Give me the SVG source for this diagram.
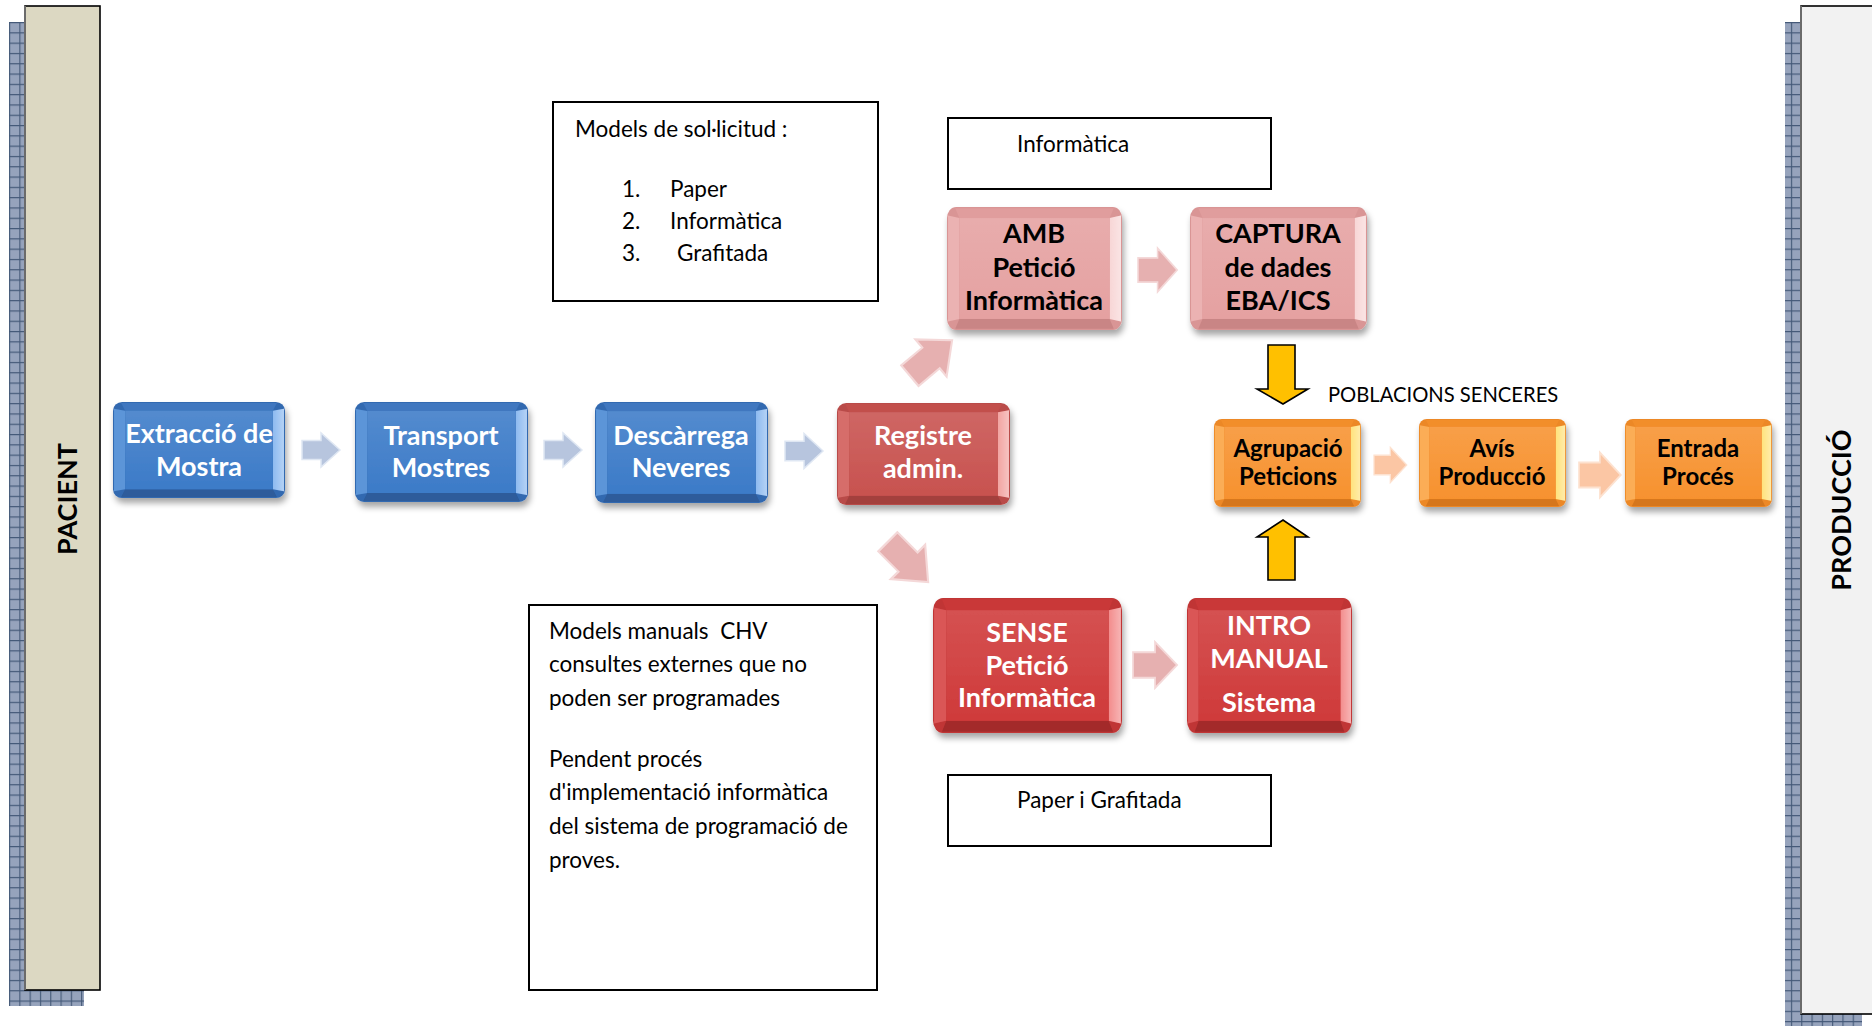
<svg xmlns="http://www.w3.org/2000/svg" xmlns:xlink="http://www.w3.org/1999/xlink" width="1872" height="1026" viewBox="0 0 1872 1026">
  <style>
    .lbl { font-family: Lato, "Open Sans", "Liberation Sans", sans-serif; font-weight: 700; text-anchor: middle; }
    .big { font-size: 27px; }
    .small { font-size: 24px; }
    .light { fill: #ffffff; }
    .dark { fill: #000000; }
    .txt { font-family: Lato, "Open Sans", "Liberation Sans", sans-serif; font-size: 22.5px; fill: #000; }
    .side { font-family: Lato, "Open Sans", "Liberation Sans", sans-serif; font-weight: 700; font-size: 27px; fill: #000; text-anchor: middle; }
    .box { fill: #ffffff; stroke: #000; stroke-width: 2; }
    .blue { --edge: #3369b0; --face: #3c7bc8; --left: #5b95d8; --hi: #8dbaf0; --top: #3f77bf; --bot: #2d5c9b; }
    .rose { --edge: #b94b48; --face: #c8524f; --left: #d66d6a; --hi: #f2a4a1; --top: #c24f4c; --bot: #a3413e; }
    .pink { --edge: #d99595; --face: #e5a1a1; --left: #ebb2b2; --hi: #f8d6d6; --top: #e09d9d; --bot: #c98585; }
    .red { --edge: #c03535; --face: #cf3a3a; --left: #da5656; --hi: #f38c8c; --top: #c93838; --bot: #a32b2b; }
    .orange { --edge: #ec8826; --face: #f7922f; --left: #fbad56; --hi: #ffe27c; --top: #f28e2c; --bot: #d5761b; }
    .a-blue { fill: #b7c5de; stroke: #dfe7f3; stroke-width: 1.5; }
    .a-pink { fill: #e6b0b0; stroke: #f4d8d8; stroke-width: 1.5; }
    .a-peach { fill: #fbc6a4; stroke: #fde2d0; stroke-width: 1.5; }
    .a-yellow { fill: #ffc000; stroke: #000; stroke-width: 1.6; }
  </style>
  <defs>
    <pattern id="grid" width="10.3" height="10.3" patternUnits="userSpaceOnUse" x="9" y="22">
      <rect width="10.3" height="10.3" fill="#96a3bc"/>
      <path d="M0 0.6H10.3M0.6 0V10.3" stroke="#435877" stroke-width="1.1" fill="none"/>
    </pattern>
    <linearGradient id="shine" x1="0" y1="0" x2="0" y2="1">
      <stop offset="0" stop-color="#fff" stop-opacity="0.12"/>
      <stop offset="1" stop-color="#fff" stop-opacity="0"/>
    </linearGradient>
    <linearGradient id="hiShine" x1="0" y1="0" x2="1" y2="0">
      <stop offset="0" stop-color="#fff" stop-opacity="0"/>
      <stop offset="1" stop-color="#fff" stop-opacity="0.35"/>
    </linearGradient>
    <filter id="sh" x="-10%" y="-10%" width="125%" height="135%">
      <feDropShadow dx="2" dy="5" stdDeviation="3" flood-color="#000" flood-opacity="0.35"/>
    </filter>
    <!-- bevelled rounded box, stretched to each node's size -->
    <symbol id="bevel" viewBox="0 0 170 100" preserveAspectRatio="none">
      <rect width="170" height="100" rx="9" style="fill: var(--edge)"/>
      <path d="M8 1H162L158 9H12Z" style="fill: var(--top)"/>
      <path d="M8 99H162L158 91H12Z" style="fill: var(--bot)"/>
      <path d="M1 7L12 9V91L1 93Z" style="fill: var(--left)"/>
      <path d="M169 7L158 9V91L169 93Z" style="fill: var(--hi)"/>
      <path d="M169 7L158 9V91L169 93Z" fill="url(#hiShine)"/>
      <rect x="12" y="9" width="146" height="82" style="fill: var(--face)"/>
      <rect x="12" y="9" width="146" height="82" fill="url(#shine)"/>
    </symbol>
    <!-- block arrow pointing right, 38 long and 36 high, origin at tail centre -->
    <path id="arrowR" d="M0 -10H19V-18L38 0L19 18V10H0Z"/>
  </defs>

  <rect width="1872" height="1026" fill="#ffffff"/>

  <!-- side bands -->
  <g id="band-pacient">
    <rect x="9" y="22" width="75" height="984" fill="url(#grid)"/>
    <rect x="25" y="6" width="75" height="984" fill="#dcd8c2" stroke="#000" stroke-width="1.6"/>
    <line x1="25" y1="6" x2="25" y2="990" stroke="#6b6b6b" stroke-width="2"/>
    <text class="side" transform="translate(77,499) rotate(-90)">PACIENT</text>
  </g>
  <g id="band-produccio">
    <rect x="1785" y="22" width="77" height="1010" fill="url(#grid)"/>
    <rect x="1801" y="6" width="80" height="1008" fill="#f2f2f2" stroke="#000" stroke-width="1.6"/>
    <line x1="1801" y1="6" x2="1801" y2="1014" stroke="#6b6b6b" stroke-width="2"/>
    <text class="side" transform="translate(1851,510) rotate(-90)">PRODUCCIÓ</text>
  </g>

  <!-- note boxes -->
  <g id="note-models">
    <rect class="box" x="553" y="102" width="325" height="199"/>
    <text class="txt" x="575" y="137">Models de sol·licitud :</text>
    <text class="txt" x="622" y="197">1.</text><text class="txt" x="670" y="197">Paper</text>
    <text class="txt" x="622" y="229">2.</text><text class="txt" x="670" y="229">Informàtica</text>
    <text class="txt" x="622" y="261">3.</text><text class="txt" x="677" y="261">Grafitada</text>
  </g>
  <g id="note-informatica">
    <rect class="box" x="948" y="118" width="323" height="71"/>
    <text class="txt" x="1017" y="152">Informàtica</text>
  </g>
  <g id="note-manuals">
    <rect class="box" x="529" y="605" width="348" height="385"/>
    <text class="txt" x="549" y="639" style="white-space: pre">Models manuals  CHV</text>
    <text class="txt" x="549" y="672">consultes externes que no</text>
    <text class="txt" x="549" y="706">poden ser programades</text>
    <text class="txt" x="549" y="767">Pendent procés</text>
    <text class="txt" x="549" y="800">d'implementació informàtica</text>
    <text class="txt" x="549" y="834">del sistema de programació de</text>
    <text class="txt" x="549" y="868">proves.</text>
  </g>
  <g id="note-paper">
    <rect class="box" x="948" y="775" width="323" height="71"/>
    <text class="txt" x="1017" y="808">Paper i Grafitada</text>
  </g>
  <g id="label-poblacions">
    <text class="txt" x="1328" y="402" style="font-size: 20.2px">POBLACIONS SENCERES</text>
  </g>

  <!-- connectors -->
  <g id="connectors">
    <use href="#arrowR" class="a-blue" transform="translate(302,450) scale(1,0.95)"/>
    <use href="#arrowR" class="a-blue" transform="translate(544,450) scale(1,0.95)"/>
    <use href="#arrowR" class="a-blue" transform="translate(785,451) scale(1,0.97)"/>
    <use href="#arrowR" class="a-pink" transform="translate(931,358) rotate(-40) scale(1.45,1.35) translate(-19,0)"/>
    <use href="#arrowR" class="a-pink" transform="translate(908,562) rotate(45) scale(1.5,1.35) translate(-19,0)"/>
    <use href="#arrowR" class="a-pink" transform="translate(1138,270) scale(1.03,1.22)"/>
    <use href="#arrowR" class="a-pink" transform="translate(1133,665) scale(1.16,1.28)"/>
    <use href="#arrowR" class="a-peach" transform="translate(1374,465) scale(0.86,0.97)"/>
    <use href="#arrowR" class="a-peach" transform="translate(1579,475) scale(1.1,1.25)"/>
    <path class="a-yellow" d="M1268 345H1295V389H1308L1283 404L1257 389H1268Z"/>
    <path class="a-yellow" d="M1268 580H1295V537H1308L1283 520L1257 537H1268Z"/>
  </g>

  <!-- process nodes -->
  <g id="node-extraccio">
    <use href="#bevel" class="blue" x="113" y="402" width="172" height="96" filter="url(#sh)"/>
    <text class="lbl big light" x="199" y="443">Extracció de</text>
    <text class="lbl big light" x="199" y="476">Mostra</text>
  </g>
  <g id="node-transport">
    <use href="#bevel" class="blue" x="355" y="402" width="173" height="100" filter="url(#sh)"/>
    <text class="lbl big light" x="441" y="445">Transport</text>
    <text class="lbl big light" x="441" y="477">Mostres</text>
  </g>
  <g id="node-descarrega">
    <use href="#bevel" class="blue" x="595" y="402" width="173" height="101" filter="url(#sh)"/>
    <text class="lbl big light" x="681" y="445">Descàrrega</text>
    <text class="lbl big light" x="681" y="477">Neveres</text>
  </g>
  <g id="node-registre">
    <use href="#bevel" class="rose" x="837" y="403" width="173" height="102" filter="url(#sh)"/>
    <text class="lbl big light" x="923" y="445">Registre</text>
    <text class="lbl big light" x="923" y="478">admin.</text>
  </g>
  <g id="node-amb">
    <use href="#bevel" class="pink" x="947" y="207" width="175" height="123" filter="url(#sh)"/>
    <text class="lbl big dark" x="1034" y="243">AMB</text>
    <text class="lbl big dark" x="1034" y="277">Petició</text>
    <text class="lbl big dark" x="1034" y="310">Informàtica</text>
  </g>
  <g id="node-captura">
    <use href="#bevel" class="pink" x="1190" y="207" width="177" height="123" filter="url(#sh)"/>
    <text class="lbl big dark" x="1278" y="243">CAPTURA</text>
    <text class="lbl big dark" x="1278" y="277">de dades</text>
    <text class="lbl big dark" x="1278" y="310">EBA/ICS</text>
  </g>
  <g id="node-sense">
    <use href="#bevel" class="red" x="933" y="598" width="189" height="135" filter="url(#sh)"/>
    <text class="lbl big light" x="1027" y="642">SENSE</text>
    <text class="lbl big light" x="1027" y="675">Petició</text>
    <text class="lbl big light" x="1027" y="707">Informàtica</text>
  </g>
  <g id="node-intro">
    <use href="#bevel" class="red" x="1187" y="598" width="165" height="135" filter="url(#sh)"/>
    <text class="lbl big light" x="1269" y="635">INTRO</text>
    <text class="lbl big light" x="1269" y="668">MANUAL</text>
    <text class="lbl big light" x="1269" y="712">Sistema</text>
  </g>
  <g id="node-agrupacio">
    <use href="#bevel" class="orange" x="1214" y="419" width="147" height="88" filter="url(#sh)"/>
    <text class="lbl small dark" x="1288" y="457">Agrupació</text>
    <text class="lbl small dark" x="1288" y="485">Peticions</text>
  </g>
  <g id="node-avis">
    <use href="#bevel" class="orange" x="1419" y="419" width="147" height="88" filter="url(#sh)"/>
    <text class="lbl small dark" x="1492" y="457">Avís</text>
    <text class="lbl small dark" x="1492" y="485">Producció</text>
  </g>
  <g id="node-entrada">
    <use href="#bevel" class="orange" x="1625" y="419" width="147" height="88" filter="url(#sh)"/>
    <text class="lbl small dark" x="1698" y="457">Entrada</text>
    <text class="lbl small dark" x="1698" y="485">Procés</text>
  </g>
</svg>
